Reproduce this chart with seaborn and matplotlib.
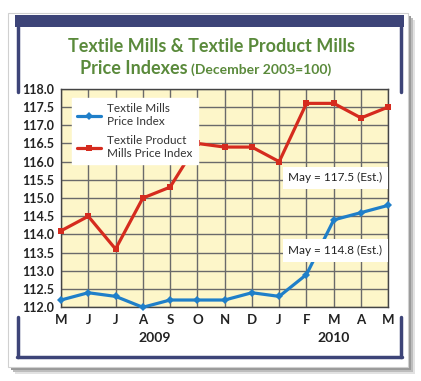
import matplotlib
matplotlib.use("Agg")
import matplotlib.pyplot as plt
import seaborn as sns
import numpy as np
from matplotlib.patches import Rectangle
from matplotlib.lines import Line2D

# Data
months = ["M", "J", "J", "A", "S", "O", "N", "D", "J", "F", "M", "A", "M"]
textile_mills = [112.2, 112.4, 112.3, 112.0, 112.2, 112.2, 112.2, 112.4, 112.3, 112.9, 114.4, 114.6, 114.8]
textile_product = [114.1, 114.5, 113.6, 115.0, 115.3, 116.5, 116.4, 116.4, 116.0, 117.6, 117.6, 117.2, 117.5]
yticks = [112.0, 112.5, 113.0, 113.5, 114.0, 114.5, 115.0, 115.5, 116.0, 116.5, 117.0, 117.5, 118.0]

W, H = 421, 381
blue = "#1f7fc9"
red = "#d52b1e"
navy = "#3d4478"
green = "#5a8a3b"

sns.set_style("white")
plt.rcParams['font.family'] = ['Lato', 'DejaVu Sans']

fig = plt.figure(figsize=(W / 100, H / 100), dpi=100)
fig.patch.set_facecolor("white")


def fx(px):
    return px / W


def fy(py):
    return 1 - py / H


# card with soft shadow
for off, c in [(7, "#e2e2e2"), (5, "#bdbdbd"), (3, "#9a9a9a")]:
    fig.patches.append(Rectangle((fx(8 + off), fy(367 + off)), fx(400), 354 / H, transform=fig.transFigure,
                                 facecolor=c, edgecolor="none", zorder=-3))
fig.patches.append(Rectangle((fx(8), fy(367)), fx(400), 354 / H, transform=fig.transFigure,
                             facecolor="white", edgecolor="#d0d0d0", linewidth=0.8, zorder=-2))
# navy frame pieces
fig.patches.append(Rectangle((fx(15), fy(27)), fx(389), 12 / H, transform=fig.transFigure,
                             facecolor=navy, edgecolor="none", zorder=-1))
for xs, ys in [([18, 18], [27, 92]), ([401, 401], [27, 92]),
               ([18, 18], [317, 357]), ([401, 401], [317, 357]), ([17, 402], [357, 357])]:
    fig.lines.append(Line2D([fx(x) for x in xs], [fy(y) for y in ys], transform=fig.transFigure,
                            color=navy, linewidth=2.5, zorder=-1))

ax = fig.add_axes([fx(61), fy(307.3), fx(327.3), 218.5 / H])
ax.set_zorder(2)
ax.set_facecolor("#fdf6c9")

x = np.arange(len(months))
sns.lineplot(x=x, y=textile_mills, ax=ax, color=blue, linewidth=2.3, marker="D",
             markersize=4.5, markeredgewidth=0, label="Textile Mills\nPrice Index", zorder=5,
             clip_on=False)
sns.lineplot(x=x, y=textile_product, ax=ax, color=red, linewidth=2.3, marker="s",
             markersize=4.5, markeredgewidth=0, label="Textile Product\nMills Price Index", zorder=5,
             clip_on=False)

ax.set_xlim(0, len(months) - 1)
ax.set_ylim(112.0, 118.0)
ax.set_xticks(x)
ax.set_xticklabels(months, fontweight="bold", fontsize=9.5)
ax.set_yticks(yticks)
ax.set_yticklabels([f"{v:.1f}" for v in yticks], fontweight="bold", fontsize=9)
ax.tick_params(axis="both", length=0, pad=5, colors="#222222")
ax.grid(True, color="#6a6a6a", linewidth=1)
ax.set_axisbelow(True)
for s in ax.spines.values():
    s.set_color("#444444")
    s.set_linewidth(1)

leg = ax.legend(loc="upper left", bbox_to_anchor=(0.034, 0.958), borderaxespad=0,
                frameon=True, fancybox=False, framealpha=1, edgecolor="white",
                fontsize=8.5, handlelength=2.0, handletextpad=0.5, labelspacing=0.7,
                borderpad=0.45)
for t in leg.get_texts():
    t.set_color("#333333")

box = dict(facecolor="white", edgecolor="none", pad=4)
ax.text(10.05, 115.56, "May = 117.5 (Est.)", ha="center", va="center", fontsize=8.5,
        color="#222222", bbox=box, zorder=6)
ax.text(10.05, 113.56, "May = 114.8 (Est.)", ha="center", va="center", fontsize=8.5,
        color="#222222", bbox=box, zorder=6)

# title
fig.text(fx(212), fy(46), "Textile Mills & Textile Product Mills", ha="center", va="center",
         fontsize=13, fontweight="bold", color=green)
fig.text(fx(188), fy(69), "Price Indexes", ha="right", va="center",
         fontsize=13, fontweight="bold", color=green)
fig.text(fx(191), fy(70), "(December 2003=100)", ha="left", va="center",
         fontsize=10, fontweight="bold", color=green)

# years
fig.text(fx(155), fy(338), "2009", ha="center", va="center", fontsize=10, fontweight="bold", color="#222222")
fig.text(fx(334), fy(338), "2010", ha="center", va="center", fontsize=10, fontweight="bold", color="#222222")

fig.savefig("out.png", dpi=100)
